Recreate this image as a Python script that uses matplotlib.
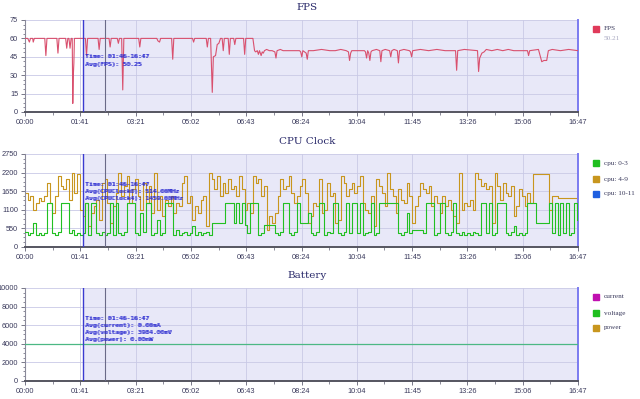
import numpy as np
import matplotlib
matplotlib.use("Agg")
import matplotlib.pyplot as plt
from matplotlib.patches import Rectangle
from matplotlib.ticker import FixedLocator, MultipleLocator

# ---------------- data ----------------
total_seconds = 1007
x_tick_labels = ["00:00", "01:41", "03:21", "05:02", "06:43", "08:24",
                 "10:04", "11:45", "13:26", "15:06", "16:47"]

fps_t = [0, 5, 8, 10, 14, 15, 17, 36, 38, 40, 58, 60, 62, 74, 76, 78, 80, 82, 84, 86,
         87, 88, 89, 90, 100, 110, 112, 114, 133, 135, 137, 153, 155, 157, 168, 170,
         172, 176, 178, 180, 207, 209, 211, 240, 242, 245, 247, 267, 269, 271, 305,
         307, 309, 330, 332, 334, 338, 341, 343, 347, 350, 353, 356, 359, 361, 363,
         370, 372, 374, 380, 382, 384, 398, 400, 402, 415, 418,
         420, 423, 425, 427, 430, 432, 434, 436, 440, 445, 450, 455, 457, 459, 465,
         470, 480, 490, 500, 502, 504, 506, 512, 514, 516, 525, 540, 555, 565, 575,
         585, 589, 591, 593, 595, 605, 618, 620, 622, 624, 626, 628, 630, 632, 640,
         646, 648, 650, 656, 664, 666, 668, 672, 678, 680, 682, 690, 700, 702, 704,
         706, 720, 735, 750, 765, 784, 786, 788, 800, 824, 826, 828, 832, 836, 840,
         850, 860, 870, 880, 890, 905, 915, 917, 919, 935, 938, 941, 945, 950, 953,
         960, 975, 990, 1007]
fps_v = [60, 60, 57, 60, 60, 57, 60, 60, 46, 60, 60, 48, 60, 60, 52, 60, 60, 52, 60, 60,
         7, 30, 40, 60, 60, 60, 46, 60, 60, 51, 60, 60, 53, 60, 60, 56,
         60, 60, 18, 60, 60, 53, 60, 60, 58, 57, 60, 60, 43, 60, 60,
         57, 60, 60, 53, 60, 60, 16, 45, 46, 55, 56, 60, 60, 50, 60,
         60, 47, 60, 60, 55, 60, 60, 47, 60, 60, 50,
         49, 50, 47, 50, 46, 49, 48, 50, 51, 50, 50, 49, 44, 50, 51,
         50, 50, 50, 50, 49, 45, 50, 48, 43, 50, 50, 51, 50, 50, 51,
         50, 49, 42, 48, 50, 50, 50, 49, 44, 50, 48, 42, 49, 50, 51,
         50, 41, 50, 51, 50, 45, 50, 51, 50, 40, 50, 51, 50, 49, 45,
         50, 51, 50, 51, 50, 50, 34, 50, 51, 50, 33, 44, 48, 49, 51,
         50, 51, 50, 51, 50, 50, 50, 46, 50, 51, 46, 41, 42, 42, 50,
         51, 50, 51, 50]

# CPU clock, one sample every 5 s (MHz)
cpu_4_9 = [1600, 1400, 1500, 1100, 1300, 1450, 1350, 1500, 1900, 1300, 1000, 1500, 2100, 1800, 1700, 2000, 1400, 2200, 1600, 2150,
           1100, 900, 1300, 600, 1000, 1200, 1400, 800, 1900, 2000, 1300, 700, 1200, 1600, 2200, 1500, 1800, 2100, 1300, 1700,
           2000, 1500, 1100, 1900, 1300, 1800, 1000, 2200, 1100, 1500, 900, 1400, 1200, 1500, 1000, 1300, 1200, 1900, 2100, 1300,
           1500, 800, 1200, 1000, 1400, 1500, 600, 2200, 2000, 1700, 2100, 1500, 1900, 1600, 2000, 1700, 1800, 1500, 2100, 1700,
           1100, 1300, 1000, 2100, 1900, 2000, 1500, 1800, 500, 900, 700, 1000, 1500, 2000, 1700, 1800, 2100, 1600, 1300, 1500,
           1800, 2000, 1600, 700, 900, 1300, 1200, 2000, 1000, 1100, 1900, 1500, 1600, 700, 800, 2100, 1900, 1500, 1700, 1900,
           1600, 1800, 2100, 1300, 1100, 1000, 1500, 600, 2000, 1800, 1600, 1200, 2200, 1700, 1500, 1000, 1700, 1400, 1300, 1900,
           1500, 700, 1200, 1500, 1900, 1700, 1600, 1800, 1200, 1500, 1300, 1000, 1500, 1200, 1400, 1100, 900, 700, 2200, 1100,
           1300, 1200, 1400, 1100, 2200, 2000, 1800, 1900, 1700, 1800, 700, 2200, 1800, 1400, 1900, 1600, 1500, 1800, 900, 1200,
           1700, 1500, 1200, 1600, 1300, 2150, 2150, 2150, 2150, 2150, 2150, 1100, 1500, 1500, 1450, 1450, 1450, 1450, 1450, 1450,
           1450, 1150]
cpu_0_3 = [450, 350, 400, 700, 350, 400, 350, 400, 1300, 1300, 400, 350, 450, 1300, 1300, 1300, 400, 500, 350, 400,
           350, 400, 1300, 350, 1300, 1300, 400, 350, 450, 350, 400, 1300, 350, 1300, 400, 350, 450, 1300, 1300, 1300,
           400, 350, 1000, 450, 1300, 1300, 350, 400, 800, 350, 400, 1300, 1300, 1300, 350, 500, 350, 400, 450, 350,
           400, 600, 350, 450, 350, 400, 450, 350, 700, 700, 700, 700, 700, 1300, 1300, 1300, 700, 1300, 700, 1300,
           650, 400, 1300, 1300, 1300, 350, 400, 650, 650, 650, 650, 400, 350, 450, 1300, 1300, 400, 350, 450, 1300,
           700, 700, 700, 1000, 400, 350, 450, 1300, 1300, 350, 450, 400, 1300, 1300, 400, 350, 450, 1300, 400, 1300,
           1300, 400, 1300, 350, 400, 450, 1300, 350, 400, 1300, 1300, 1300, 1300, 1300, 1300, 1300, 400, 350, 450, 1000,
           400, 500, 500, 500, 500, 400, 1300, 1300, 1300, 350, 400, 1300, 1300, 400, 350, 450, 1300, 400, 350, 450,
           350, 400, 350, 450, 400, 350, 1300, 1300, 400, 1300, 350, 400, 1300, 1300, 1300, 400, 350, 450, 600, 350,
           400, 350, 400, 1300, 1300, 1300, 700, 700, 700, 700, 700, 1300, 400, 1300, 350, 1300, 400, 1300, 350, 400,
           1300, 800]

batt_t = [0, 1007]
batt_current = [0, 0]
batt_voltage = [3984, 3984]
batt_power = [0, 0]

sel_start, sel_end = 106, 146  # selection markers (seconds)

# ---------------- style ----------------
W, H = 640, 399
fig = plt.figure(figsize=(6.4, 3.99), dpi=100)

SHADE = "#e8e8f8"
GRID = "#c9c9e6"
TXT = "#3a3a5c"
TITLE = "#2b2b6b"
ANN = "#2a2ad0"

def fx(px):
    return px / W

def fy(py):
    return 1 - py / H

def make_axes(top, bottom, ymax, ystep):
    ax = fig.add_axes([fx(25), fy(bottom), fx(578) - fx(25), (bottom - top) / H])
    ax.set_xlim(0, total_seconds)
    ax.set_ylim(0, ymax)
    ax.axvspan(sel_start, total_seconds, color=SHADE, zorder=0, lw=0)
    ticks = [i * total_seconds / 10 for i in range(11)]
    ax.xaxis.set_major_locator(FixedLocator(ticks))
    ax.xaxis.set_minor_locator(FixedLocator([t + total_seconds / 20 for t in ticks[:-1]]))
    ax.set_xticklabels(x_tick_labels)
    ax.yaxis.set_major_locator(MultipleLocator(ystep))
    ax.yaxis.set_minor_locator(MultipleLocator(ystep / 4))
    ax.grid(True, which="major", color=GRID, lw=0.6, zorder=0.5)
    ax.set_axisbelow(True)
    ax.tick_params(axis="both", which="major", labelsize=5.3, colors="#777788",
                   labelcolor=TXT, length=3, width=0.7, pad=2)
    ax.tick_params(axis="both", which="minor", colors="#777788", length=1.8, width=0.6)
    for lab in ax.get_xticklabels() + ax.get_yticklabels():
        lab.set_fontfamily("Liberation Sans")
    ax.spines["top"].set_visible(False)
    ax.spines["left"].set_color("#8a8a9a")
    ax.spines["left"].set_linewidth(0.8)
    ax.spines["bottom"].set_color("#555560")
    ax.spines["bottom"].set_linewidth(1.4)
    ax.spines["right"].set_color("#7b7bf0")
    ax.spines["right"].set_linewidth(1.4)
    ax.set_facecolor("white")
    ax.axvline(sel_start, color="#3a3ad0", lw=1.0, zorder=5)
    ax.axvline(sel_end, color="#6a6a88", lw=0.8, zorder=5)
    return ax

def ann(lines, y0):
    for i, s in enumerate(lines):
        for dx in (0, 0.5):
            fig.text(fx(85 + dx), fy(y0 + i * 7.2), s, fontsize=4.4, color=ANN,
                     family="DejaVu Sans Mono", va="center", ha="left")

def legend_item(py, color, label, sub=None):
    fig.patches.append(Rectangle((fx(593), fy(py) - 2.6 / H), 5.5 / W, 5.5 / H,
                                 transform=fig.transFigure, color=color, figure=fig))
    fig.text(fx(604), fy(py), label, fontsize=5.2, color=TXT,
             family="Liberation Serif", va="center", ha="left")
    if sub:
        fig.text(fx(604), fy(py + 9), sub, fontsize=5.2, color="#a8a8c0",
                 family="Liberation Serif", va="center", ha="left")

def title(py, s):
    fig.text(fx(307), fy(py), s, fontsize=7.5, color=TITLE, family="DejaVu Serif",
             ha="center", va="center")

# ---------------- FPS ----------------
ax1 = make_axes(20, 112, 75, 15)
ax1.plot(fps_t, fps_v, color="#d9506e", lw=0.8, zorder=3)
title(8, "FPS")
ann(["Time: 01:46-16:47", "Avg(FPS): 50.25"], 57)
legend_item(29, "#e03a5a", "FPS", "50.21")

# ---------------- CPU ----------------
ax2 = make_axes(154, 246.7, 2750, 550)
cpu_t = np.arange(len(cpu_4_9)) * 5
ax2.plot(cpu_t, cpu_4_9, drawstyle="steps-post", color="#c8961e", lw=0.8, zorder=2)
ax2.plot(cpu_t, cpu_0_3, drawstyle="steps-post", color="#22c022", lw=0.8, zorder=3)
title(142, "CPU Clock")
ann(["Time: 01:46-16:47", "Avg(CPUClock0): 514.00MHz", "Avg(CPUClock4): 1459.00MHz"], 184)
legend_item(163, "#1fbf1f", "cpu: 0-3")
legend_item(179, "#c8961e", "cpu: 4-9")
legend_item(194, "#1f5fe0", "cpu: 10-11")

# ---------------- Battery ----------------
ax3 = make_axes(288, 380.7, 10000, 2000)
ax3.plot(batt_t, batt_current, color="#c020c0", lw=0.8, zorder=2)
ax3.plot(batt_t, batt_power, color="#c8961e", lw=0.8, zorder=2)
ax3.plot(batt_t, batt_voltage, color="#4cb884", lw=0.9, zorder=3)
title(276, "Battery")
ann(["Time: 01:46-16:47", "Avg(current): 0.00mA", "Avg(voltage): 3984.00mV",
     "Avg(power): 0.00mW"], 318)
legend_item(297, "#c010b0", "current")
legend_item(313, "#1fbf1f", "voltage")
legend_item(328, "#c8961e", "power")

fig.savefig("out.png", dpi=100)
